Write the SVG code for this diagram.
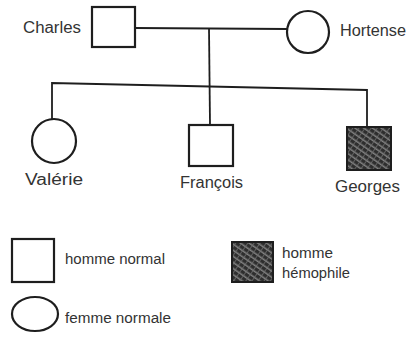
<svg xmlns="http://www.w3.org/2000/svg" width="411" height="341" viewBox="0 0 411 341">
<defs>
<pattern id="hatch" width="5" height="5" patternUnits="userSpaceOnUse" patternTransform="rotate(35)">
<rect width="5" height="5" fill="#2e2e2e"/>
<line x1="0" y1="1.2" x2="5" y2="1.2" stroke="#a0a0a0" stroke-width="1.1"/>
<line x1="2.5" y1="0" x2="2.5" y2="5" stroke="#6e6e6e" stroke-width="0.8"/>
</pattern>
</defs>
<style>
.sym{fill:#fff;stroke:#1e1e1e;stroke-width:2.2}
.hemo{fill:url(#hatch);stroke:#1e1e1e;stroke-width:2}
.lbl{font-family:"Liberation Sans",Arial,sans-serif;font-size:16px;fill:#333}
.leg{font-family:"Liberation Sans",Arial,sans-serif;font-size:14px;fill:#333}
.con{fill:none;stroke:#1e1e1e;stroke-width:1.8}
</style>
<rect width="411" height="341" fill="#fff"/>
<g id="connectors">
<path class="con" d="M135 28 L287 29"/>
<path class="con" d="M209 28 L210 125"/>
<path class="con" d="M52 119 L52 83 L367 90 L367 127"/>
</g>
<g id="charles">
<rect class="sym" x="92" y="7" width="43" height="40"/>
<text class="lbl" x="23" y="33" textLength="58" lengthAdjust="spacingAndGlyphs">Charles</text>
</g>
<g id="hortense">
<circle class="sym" cx="308" cy="32" r="21"/>
<text class="lbl" x="340" y="36" textLength="66" lengthAdjust="spacingAndGlyphs">Hortense</text>
</g>
<g id="valerie">
<circle class="sym" cx="54" cy="141" r="22"/>
<text class="lbl" x="25" y="185" textLength="58" lengthAdjust="spacingAndGlyphs">Valérie</text>
</g>
<g id="francois">
<rect class="sym" x="189" y="125" width="44" height="41"/>
<text class="lbl" x="180" y="188" textLength="63" lengthAdjust="spacingAndGlyphs">François</text>
</g>
<g id="georges">
<rect class="hemo" x="347" y="127" width="44" height="43"/>
<text class="lbl" x="335" y="192" textLength="65" lengthAdjust="spacingAndGlyphs">Georges</text>
</g>
<g id="legend-homme">
<rect class="sym" x="12" y="239" width="42" height="43"/>
<text class="leg" x="65" y="264" textLength="100" lengthAdjust="spacingAndGlyphs">homme normal</text>
</g>
<g id="legend-hemophile">
<rect class="hemo" x="232" y="242" width="41" height="40"/>
<text class="leg" x="282" y="258" textLength="51" lengthAdjust="spacingAndGlyphs">homme</text>
<text class="leg" x="282" y="278" textLength="68" lengthAdjust="spacingAndGlyphs">hémophile</text>
</g>
<g id="legend-femme">
<ellipse class="sym" cx="35" cy="314" rx="23" ry="17"/>
<text class="leg" x="65" y="323" textLength="106" lengthAdjust="spacingAndGlyphs">femme normale</text>
</g>
</svg>
